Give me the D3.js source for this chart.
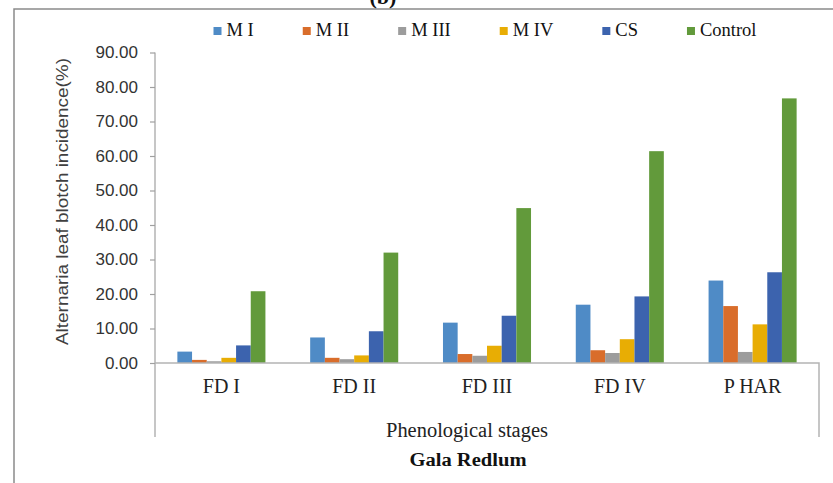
<!DOCTYPE html>
<html>
<head>
<meta charset="utf-8">
<script src="https://cdn.jsdelivr.net/npm/d3@7/dist/d3.min.js"></script>
<style>
  html, body { margin: 0; padding: 0; background: #fff; }
  svg { display: block; }
</style>
</head>
<body>
<svg id="chart" width="833" height="483"></svg>
<script>
// ---- data ----
const categories = ["FD I", "FD II", "FD III", "FD IV", "P HAR"];
const seriesNames = ["M I", "M II", "M III", "M IV", "CS", "Control"];
const seriesColors = ["#4f8bc6", "#d96d2b", "#9c9c9c", "#e8ad04", "#3c63ae", "#629a3b"];
const valuesMI      = [3.3, 7.4, 11.7, 16.9, 23.9];
const valuesMII     = [0.9, 1.5, 2.6, 3.7, 16.5];
const valuesMIII    = [0.5, 1.1, 2.1, 2.9, 3.2];
const valuesMIV     = [1.5, 2.2, 5.0, 6.9, 11.2];
const valuesCS      = [5.1, 9.2, 13.7, 19.3, 26.3];
const valuesControl = [20.8, 32.0, 44.9, 61.4, 76.7];
const yTicks = [0, 10, 20, 30, 40, 50, 60, 70, 80, 90];
const panelLabel = "(b)";
const yTitle = "Alternaria leaf blotch incidence(%)";
const xTitle = "Phenological stages";
const subTitle = "Gala Redlum";

const allValues = [valuesMI, valuesMII, valuesMIII, valuesMIV, valuesCS, valuesControl];

// ---- layout ----
const svg = d3.select("#chart");
const plot = { left: 155, right: 819, top: 52.5, bottom: 363 };
const boxBottom = 437;

// outer frame
svg.append("path")
  .attr("d", `M14,483 L14,9 L833,9`)
  .attr("fill", "none").attr("stroke", "#8a8a8a").attr("stroke-width", 1.5);

// panel label (partly cut by the top edge, as in the original)
svg.append("text").text(panelLabel)
  .attr("x", 383).attr("y", 4)
  .attr("text-anchor", "middle")
  .attr("font-family", "Liberation Serif").attr("font-weight", "bold")
  .attr("font-size", 22).attr("fill", "#111");

// scales
const x0 = d3.scaleBand().domain(categories)
  .range([plot.left, plot.right]).paddingInner(0.337).paddingOuter(0.337 / 2);
const x1 = d3.scaleBand().domain(seriesNames).range([0, x0.bandwidth()]).padding(0);
const y = d3.scaleLinear().domain([0, 90]).range([plot.bottom, plot.top]);

// bars
const groups = svg.append("g").selectAll("g")
  .data(categories).join("g")
  .attr("transform", d => `translate(${x0(d)},0)`);
groups.selectAll("rect")
  .data((c, ci) => seriesNames.map((s, si) => ({ s, si, v: allValues[si][ci] })))
  .join("rect")
  .attr("x", d => x1(d.s))
  .attr("width", x1.bandwidth())
  .attr("y", d => y(d.v))
  .attr("height", d => y(0) - y(d.v))
  .attr("fill", d => seriesColors[d.si]);

// y axis
const yAxis = svg.append("g")
  .attr("transform", `translate(${plot.left},0)`)
  .call(d3.axisLeft(y).tickValues(yTicks).tickFormat(d3.format(".2f")).tickSize(5).tickPadding(12).tickSizeOuter(0));
yAxis.select(".domain").remove();
yAxis.selectAll(".tick line").attr("stroke", "#a0a0a0").attr("stroke-width", 1.2);
yAxis.selectAll(".tick text")
  .attr("font-family", "Liberation Sans").attr("font-size", 17).attr("fill", "#333");
// axis line (extends to box bottom)
svg.append("line")
  .attr("x1", plot.left).attr("x2", plot.left)
  .attr("y1", y(90)).attr("y2", boxBottom)
  .attr("stroke", "#a0a0a0").attr("stroke-width", 1.2);

// x axis box
svg.append("path")
  .attr("d", `M${plot.left},${y(0)} L${plot.right},${y(0)} L${plot.right},${boxBottom}`)
  .attr("fill", "none").attr("stroke", "#b4b4b4").attr("stroke-width", 1.5);

// category labels
svg.append("g").selectAll("text")
  .data(categories).join("text")
  .attr("x", d => x0(d) + x0.bandwidth() / 2)
  .attr("y", 393)
  .attr("text-anchor", "middle")
  .attr("font-family", "Liberation Serif").attr("font-size", 20).attr("fill", "#222")
  .text(d => d);

// y title
svg.append("text").text(yTitle)
  .attr("transform", `translate(68,201.5) rotate(-90)`)
  .attr("text-anchor", "middle")
  .attr("font-family", "Liberation Sans").attr("font-size", 16.5).attr("fill", "#404040")
  .attr("textLength", 287).attr("lengthAdjust", "spacingAndGlyphs");

// x title
svg.append("text").text(xTitle)
  .attr("x", 467).attr("y", 437)
  .attr("text-anchor", "middle")
  .attr("font-family", "Liberation Serif").attr("font-size", 20).attr("fill", "#222")
  .attr("textLength", 162).attr("lengthAdjust", "spacingAndGlyphs");

// subtitle
svg.append("text").text(subTitle)
  .attr("x", 468).attr("y", 466)
  .attr("text-anchor", "middle")
  .attr("font-family", "Liberation Serif").attr("font-weight", "bold")
  .attr("font-size", 18).attr("fill", "#111")
  .attr("textLength", 117).attr("lengthAdjust", "spacingAndGlyphs");

// legend
const legend = svg.append("g");
const items = legend.selectAll("g").data(seriesNames).join("g");
items.append("rect")
  .attr("width", 8).attr("height", 8).attr("y", 27)
  .attr("fill", (d, i) => seriesColors[i]);
items.append("text")
  .attr("x", 13).attr("y", 36)
  .attr("font-family", "Liberation Serif").attr("font-size", 18.5).attr("fill", "#111")
  .text(d => d);
let cursor = 0;
const offsets = [];
const legendGap = 49;
items.each(function () {
  const w = d3.select(this).select("text").node().getComputedTextLength();
  offsets.push(cursor);
  cursor += 13 + w + legendGap;
});
const totalW = cursor - legendGap;
const startX = 485 - totalW / 2;
items.attr("transform", (d, i) => `translate(${startX + offsets[i]},0)`);
</script>
</body>
</html>
